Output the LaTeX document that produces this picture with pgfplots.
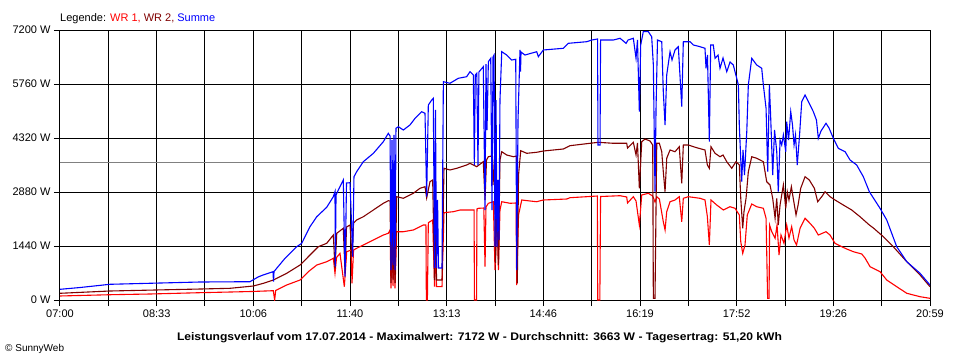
\documentclass[border=0pt]{standalone}
\usepackage{pgfplots}
\pgfplotsset{compat=1.18}
\usepackage{fontspec}
\setmainfont{Liberation Sans}
\definecolor{wrone}{RGB}{255,0,0}
\definecolor{wrtwo}{RGB}{128,0,0}
\definecolor{summe}{RGB}{0,0,255}
\definecolor{avg}{RGB}{128,128,128}
\begin{document}
\begin{tikzpicture}[x=1pt,y=1pt]
\begin{axis}[
  name=ax, at={(0,0)}, anchor=south west,
  scale only axis, width=870pt, height=270pt,
  xmin=0, xmax=839, ymin=0, ymax=7200,
  xtick={0,46.61,93.22,139.83,186.44,233.06,279.67,326.28,372.89,419.5,466.11,512.72,559.33,605.94,652.56,699.17,745.78,792.39,839},
  xticklabels={07:00,,08:33,,10:06,,11:40,,13:13,,14:46,,16:19,,17:52,,19:26,,20:59},
  ytick={0,1440,2880,4320,5760,7200},
  yticklabels={0 W,1440 W,2880 W,4320 W,5760 W,7200 W},
  tick align=outside, tick pos=left,
  major tick length=6pt,
  grid=major, grid style={black, line width=1pt},
  axis line style={black, line width=1pt},
  tick style={black, line width=1pt},
  ticklabel style={font=\fontsize{11}{13}\selectfont},
  every axis plot/.append style={line width=1.1pt, mark=none},
]
\addplot[avg, line width=1pt] coordinates {(0,3663) (839,3663)};
\addplot[wrone] coordinates {
(0,107)(48.2,141)(86.8,160)(135,195)(163.9,213)(184.9,227)(205.7,248)(207,0)(208,253)(218.6,400)(231.5,533)(239.5,755)(247.6,933)(257.2,1021)(263.6,1112)(265.2,712)(266.7,1133)(270,1245)(274.2,355)(276.5,1288)(280.7,1333)(281.6,445)(283.1,1333)(286.1,1379)(292.5,1467)(302.2,1600)(311.8,1733)(316.6,1779)(318.3,1867)(319.2,312)(320.2,1733)(321.2,373)(322.1,1813)(323.1,312)(324.7,1821)(331.1,1821)(340.7,1867)(350.4,2000)(352.9,2000)(353.3,0)(354.3,0)(355.2,2061)(359.4,2133)(361.2,355)(362.1,2000)(363.1,355)(368.4,355)(370.3,2328)(379.3,2355)(385.8,2400)(395.4,2400)(399.3,2400)(399.7,0)(401.7,0)(402.1,2427)(403.4,2445)(408.7,2453)(409.9,888)(410.8,2480)(413.1,2579)(417.9,2621)(419.5,800)(421.4,2267)(422.8,800)(424.3,2400)(426,2621)(434,2579)(439.8,2587)(440.4,400)(442.2,2267)(445.3,2667)(453.3,2640)(459.7,2621)(466.1,2667)(488.7,2693)(491.8,2728)(507.9,2755)(518.2,2773)(518.6,0)(520.6,0)(521.3,2760)(540.1,2781)(546.5,2747)(547.3,2587)(552.9,2755)(555.5,2640)(558.7,2000)(561,2800)(567.4,2845)(571.6,2773)(573.8,2613)(575.5,2755)(578,2693)(581.8,2088)(583.5,1867)(585.1,2355)(588.3,2621)(593.1,2667)(597.2,2755)(599.6,2088)(601.1,2712)(605.9,2755)(617.2,2712)(622,2667)(624.3,2221)(626.2,1467)(627.8,2667)(633.3,2533)(639.7,2400)(646.1,2488)(651,2445)(655.1,2267)(656.5,1555)(658.4,1245)(660.6,1467)(662.8,2267)(667.1,2560)(671.9,2488)(678.3,2445)(680.9,2179)(682.4,45)(683.8,45)(684.3,2000)(686.4,1821)(689.6,1645)(691.5,2000)(693.4,1200)(695.3,1733)(698.2,1512)(700.8,2000)(703,1653)(705.6,1955)(707.9,1600)(710.3,1467)(713.7,1912)(718.5,2179)(723.3,2045)(727.5,1912)(731.3,1733)(738.7,1821)(742.6,1733)(747.4,1512)(753.9,1421)(758.7,1360)(765.1,1288)(773.2,1227)(776.3,1120)(781.2,888)(790.8,755)(797.3,533)(806.9,355)(816.6,179)(829.4,88)(839,45)
};
\addplot[wrtwo] coordinates {
(0,179)(48.2,240)(135,293)(163.9,312)(186.4,373)(196.1,445)(205.7,533)(218.6,712)(231.5,933)(241.1,1200)(249.1,1421)(257.2,1512)(263.6,1733)(265.2,845)(266.9,1779)(273.2,1912)(274.9,712)(276.3,1947)(279.7,2000)(281.6,1155)(283.1,2053)(286.1,2133)(292.5,2221)(302.2,2400)(311.8,2579)(316.6,2648)(318.3,2640)(319.2,453)(320.2,2533)(321.2,533)(322.1,2667)(323.1,453)(324.7,2755)(331.1,2712)(340.7,2845)(347.2,2979)(352,3021)(353.6,2720)(356.8,3155)(359.4,3200)(361.2,533)(362.1,3067)(363.1,533)(368.4,533)(370.3,3512)(376.1,3467)(382.6,3512)(392.2,3600)(395.4,3645)(401.9,3555)(408.2,3688)(409.9,2667)(411.3,3733)(413.1,3821)(416.3,3840)(417.6,3067)(419,3840)(420,987)(421.4,2667)(422.8,933)(424.3,3733)(426,3955)(430.8,3867)(437.2,3821)(440.4,3840)(441,445)(442.2,3333)(444.3,3981)(450.1,3912)(459.7,3939)(466.1,3973)(485.4,4027)(491.8,4115)(511.1,4179)(519.1,4205)(533.6,4179)(546.5,4179)(547.3,4053)(552.9,4205)(555.5,3867)(556.9,4187)(558.7,2979)(561,4221)(564.2,4293)(569,4240)(571.6,4133)(572.2,45)(573.8,45)(575.5,4179)(578,4179)(580.3,3955)(581.8,3421)(583.5,2888)(585.1,3779)(588.3,4000)(593.1,3955)(597.2,4088)(599.6,3112)(601.1,4133)(605.9,4133)(614,4061)(622,4000)(624.3,3600)(626.2,3512)(627.8,4088)(631.7,3912)(636.5,3821)(639.4,3867)(643,3688)(647.8,3512)(651.9,3688)(655.1,3600)(656.5,2712)(658.4,1912)(659.6,2355)(661.6,2712)(663.8,3421)(667.1,3821)(671.9,3779)(678.3,3688)(681.5,3155)(684.7,3067)(687.3,2712)(689.6,2179)(691.2,2712)(692.7,2000)(694.4,2533)(697.6,3067)(699.9,2445)(701.4,2888)(703,2667)(705.3,3021)(707.4,2667)(709.8,2267)(711.8,2533)(714.3,2979)(718.5,3288)(722.6,3200)(727.5,2979)(730.7,2621)(734.6,2755)(737.8,2888)(742.6,2755)(747.4,2667)(755.4,2533)(763.5,2400)(771.5,2221)(780.5,2000)(784.4,1920)(794,1688)(803.6,1421)(816.6,1021)(829.4,667)(839,355)
};
\addplot[summe] coordinates {
(0,285)(19.3,333)(48.2,419)(96.4,453)(135,480)(183.2,488)(191,613)(195.8,667)(205.4,755)(205.9,488)(206.4,760)(217,1112)(228.3,1421)(233.1,1512)(241.1,1955)(247.6,2221)(257.2,2472)(263.6,2755)(265.2,2888)(265.5,888)(266.2,2800)(268.4,2933)(273.2,3200)(274.9,621)(276.3,3120)(279.7,3128)(282.3,1155)(283.5,3288)(286.1,3421)(292.5,3688)(302.2,3912)(311.8,4221)(316.6,4445)(318.3,4373)(319.2,800)(320.2,4267)(321.2,933)(322.1,4400)(323.1,800)(324,4579)(326.3,4621)(331.1,4533)(337.5,4667)(342.4,4845)(348.8,5021)(352,4979)(353.6,2755)(355.2,5200)(358.5,5333)(360,5379)(361.2,853)(362.1,5067)(363.1,853)(364.1,2667)(365,853)(368.4,853)(369.7,5821)(376.1,5779)(384.1,5912)(392.2,5955)(395.4,6088)(398.6,6000)(399.6,3600)(400.5,6000)(401.9,6045)(403.1,3600)(404,6080)(408.2,6221)(409.9,2400)(410.8,6293)(411.8,4533)(413.1,6355)(415.4,6445)(416.6,2400)(417.6,6480)(418.6,6533)(419.5,1421)(420.5,5333)(421.4,1421)(422.4,3200)(423.3,1600)(424.3,5333)(426,6621)(430.8,6533)(435.6,6400)(439.5,6419)(440.4,800)(441.7,4800)(443.6,6667)(444.1,6088)(444.6,6613)(448.4,6533)(459.7,6621)(461.3,6488)(466.1,6667)(485.4,6712)(490.2,6845)(507.9,6888)(512.8,6933)(518.4,6960)(518.8,4133)(520.8,4133)(521.3,6933)(533.6,6933)(540.1,6979)(545.9,6845)(547.8,6933)(552.9,6979)(555.5,6445)(556.9,6933)(558.7,5021)(560,6800)(562.5,7155)(567.4,7155)(570.6,7021)(572.2,6267)(573.8,2888)(574.8,5112)(576.2,6933)(580.3,6888)(581.8,5555)(583.5,4667)(585.1,6000)(588.3,6621)(590.2,6400)(593.1,6667)(596.3,6755)(599.6,5155)(601.1,6888)(607.6,6888)(610.8,6800)(617.2,6755)(622,6712)(623,6179)(624.4,6533)(626.2,4221)(627.5,6800)(630,6800)(631.7,6445)(634.6,6533)(636.5,6179)(639.4,6453)(643,6088)(646.2,6347)(649.3,6267)(652.6,5912)(654.2,5733)(655.1,4667)(657.4,3155)(658.7,4000)(660.1,3333)(662.3,4488)(663.8,5733)(667.1,6445)(671.9,6267)(676.7,6179)(678.3,5733)(680.9,5112)(682.5,3421)(684.1,5733)(685.4,4845)(687.3,3333)(689.1,4533)(691.2,3955)(692.7,2888)(694.4,4267)(696,4133)(697.6,4400)(699.9,3955)(700.8,4755)(702.6,4267)(704.7,5021)(706.4,4667)(707.9,4133)(709.3,4400)(711,3600)(713.2,4400)(715.3,5288)(718.5,5467)(722.4,5253)(726.5,5021)(729.5,4800)(731.3,4312)(733.9,4507)(738.7,4712)(741.6,4587)(745.8,4312)(750.6,4045)(757.1,3955)(761.9,3733)(768.3,3600)(774.7,3288)(780.5,2888)(790.8,2445)(797.3,2133)(806.9,1421)(816.6,1021)(829.4,712)(839,400)
};
\end{axis}
\node[anchor=base west, inner sep=0pt, font=\fontsize{11}{13}\selectfont] at (0,279) {Legende: \textcolor{wrone}{WR 1,} \textcolor{wrtwo}{WR 2,} \textcolor{summe}{Summe}};
\node[anchor=base, inner sep=0pt, font=\bfseries\fontsize{11}{13}\selectfont] at (419.5,-40) {\scalebox{1.1}[1]{Leistungsverlauf vom 17.07.2014 - Maximalwert: 7172 W - Durchschnitt: 3663 W - Tagesertrag: 51,20 kWh}};
\node[anchor=base west, inner sep=0pt, font=\fontsize{10}{12}\selectfont] at (-55,-51) {© SunnyWeb};
\pgfresetboundingbox
\path[use as bounding box] (-60,-60) rectangle (900,300);
\end{tikzpicture}
\end{document}
